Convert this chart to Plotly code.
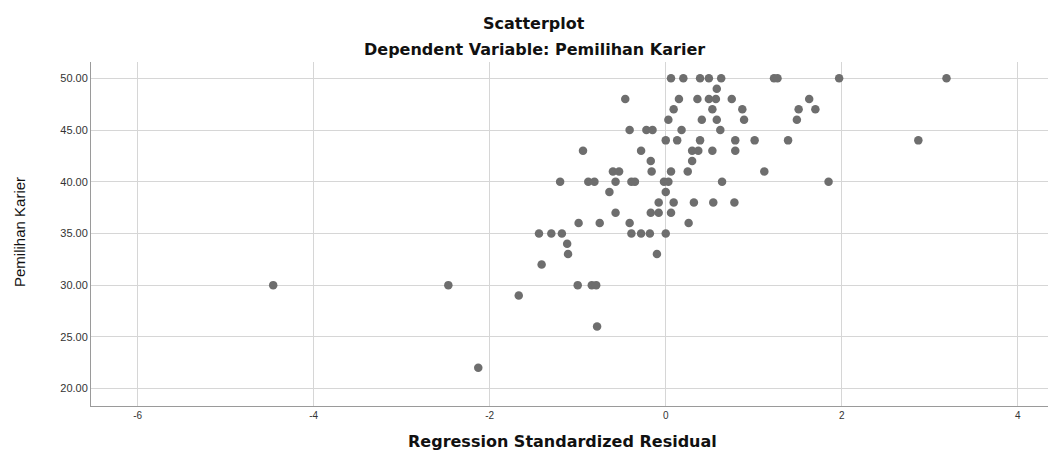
import plotly.graph_objects as go

# Data (Pemilihan Karier vs Regression Standardized Residual)
residual = [
    0.06, 0.20, 0.39, 0.49, 0.63, 1.23, 1.27, 1.97, 3.19,
    0.58,
    -0.46, 0.15, 0.36, 0.49, 0.57, 0.75, 1.63,
    0.09, 0.53, 0.87, 1.51, 1.70,
    0.03, 0.41, 0.58, 0.89, 1.49,
    -0.41, -0.22, -0.15, 0.18, 0.62,
    0.00, 0.13, 0.39, 0.79, 1.01, 1.39, 2.87,
    -0.94, -0.28, 0.30, 0.37, 0.53, 0.79,
    -0.17, 0.30,
    -0.60, -0.53, -0.16, 0.06, 0.25, 1.12,
    -1.20, -0.88, -0.81, -0.57, -0.39, -0.35, -0.02, 0.03, 0.64, 1.85,
    -0.64, 0.00,
    -0.08, 0.09, 0.32, 0.54, 0.78,
    -0.57, -0.17, -0.08, 0.06,
    -0.99, -0.75, -0.41, 0.26,
    -1.44, -1.30, -1.18, -0.39, -0.28, -0.18, 0.00,
    -1.12,
    -1.11, -0.10,
    -1.41,
    -4.46, -2.47, -1.00, -0.84, -0.79,
    -1.67,
    -0.78,
    -2.13,
]
karier = (
    [50] * 9 + [49] * 1 + [48] * 7 + [47] * 5 + [46] * 5 + [45] * 5 +
    [44] * 7 + [43] * 6 + [42] * 2 + [41] * 6 + [40] * 10 + [39] * 2 +
    [38] * 5 + [37] * 4 + [36] * 4 + [35] * 7 + [34] * 1 + [33] * 2 +
    [32] * 1 + [30] * 5 + [29] * 1 + [26] * 1 + [22] * 1
)
x_ticks = [-6, -4, -2, 0, 2, 4]
y_ticks = [20, 25, 30, 35, 40, 45, 50]

title_text = "Scatterplot"
subtitle_text = "Dependent Variable: Pemilihan Karier"
x_title = "Regression Standardized Residual"
y_title = "Pemilihan Karier"

# page body has an 8px margin: figure origin sits at (8, 8) in the window
OFF = 8
PL, PR, PT, PB = 91, 1053, 62, 406          # plot area in window pixels
PW, PH = PR - PL, PB - PT

fig = go.Figure()
fig.add_trace(go.Scatter(
    x=residual, y=karier, mode="markers",
    marker=dict(color="#6e6e6e", size=8.5, line=dict(width=0)),
    hoverinfo="x+y", showlegend=False,
))

grid_col = "#d6d6d6"
bold_font = "DejaVu Sans, Liberation Sans, Arial, sans-serif"


def px_x(p):
    return (p - PL) / PW


def px_y(p):
    return 1 - (p - PT) / PH


fig.update_layout(
    width=1056 - OFF, height=451 - OFF,
    margin=dict(l=PL - OFF, r=(1056 - OFF) - (PR - OFF), t=PT - OFF,
                b=(451 - OFF) - (PB - OFF), pad=0),
    paper_bgcolor="white", plot_bgcolor="white",
    font=dict(family="Liberation Sans, Arial, sans-serif", color="#222222"),
    xaxis=dict(
        range=[-6.53, 4.40], tickvals=x_ticks, ticktext=[str(v) for v in x_ticks],
        showgrid=True, gridcolor=grid_col, gridwidth=1, zeroline=False,
        showline=True, linecolor="#9a9a9a", linewidth=1, mirror=False,
        ticks="", tickfont=dict(size=10, color="#333333"),
    ),
    yaxis=dict(
        range=[18.31, 51.58], tickvals=y_ticks, tickformat=".2f",
        showgrid=True, gridcolor=grid_col, gridwidth=1, zeroline=False,
        showline=True, linecolor="#9a9a9a", linewidth=1, mirror=False,
        ticks="", tickfont=dict(size=11, color="#333333"),
    ),
    annotations=[
        dict(text="<b>" + title_text + "</b>", xref="paper", yref="paper",
             x=px_x(534), y=px_y(23), showarrow=False,
             xanchor="center", yanchor="middle",
             font=dict(size=16, color="#111111", family=bold_font)),
        dict(text="<b>" + subtitle_text + "</b>", xref="paper", yref="paper",
             x=px_x(534), y=px_y(50), showarrow=False,
             xanchor="center", yanchor="middle",
             font=dict(size=16, color="#111111", family=bold_font)),
        dict(text="<b>" + x_title + "</b>", xref="paper", yref="paper",
             x=px_x(562), y=px_y(441), showarrow=False,
             xanchor="center", yanchor="middle",
             font=dict(size=16, color="#111111", family=bold_font)),
        dict(text=y_title, xref="paper", yref="paper",
             x=px_x(19), y=px_y(232), showarrow=False,
             xanchor="center", yanchor="middle", textangle=-90,
             font=dict(size=15, color="#111111",
                       family="Liberation Sans Narrow, Liberation Sans, Arial")),
    ],
)

fig.write_html("out.html")
